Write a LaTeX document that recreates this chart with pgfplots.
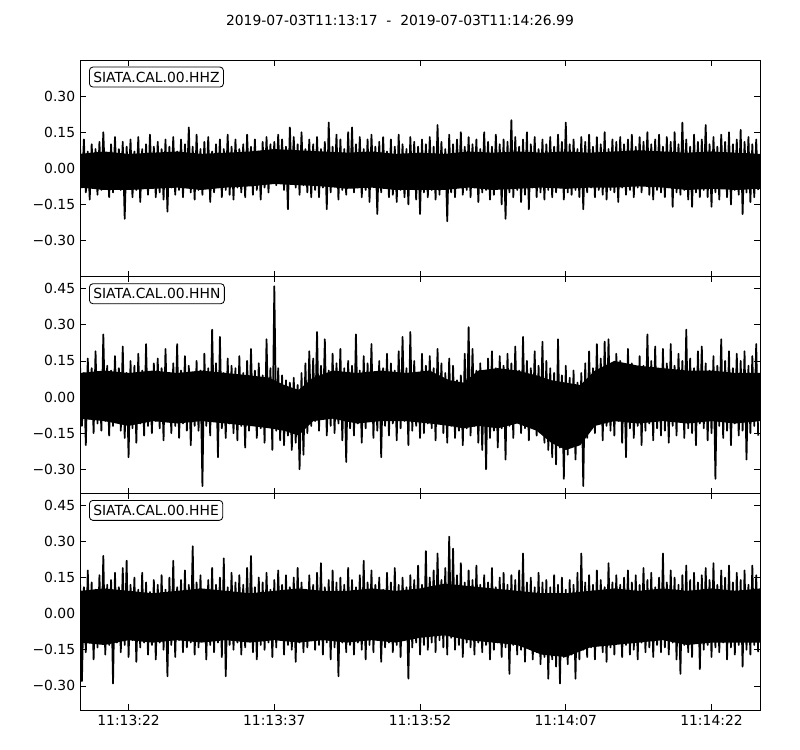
\documentclass[border=0pt]{standalone}
\usepackage{pgfplots}
\usepackage{pgfplotstable}
\pgfplotsset{compat=1.18}
\usepackage{fontspec}
\setmainfont{DejaVu Sans}

\pgfplotstableread[row sep=\\,header=false]{
0.09\\-0.08\\0.12\\-0.10\\0.07\\-0.13\\0.10\\-0.06\\0.08\\-0.11\\0.11\\-0.09\\0.15\\-0.07\\0.06\\-0.12\\0.10\\-0.10\\0.13\\-0.08\\
0.08\\-0.09\\0.11\\-0.21\\0.09\\-0.07\\0.12\\-0.12\\0.07\\-0.09\\0.13\\-0.14\\0.08\\-0.08\\0.10\\-0.11\\0.14\\-0.07\\0.09\\-0.12\\
0.11\\-0.10\\0.08\\-0.13\\0.12\\-0.18\\0.09\\-0.08\\0.13\\-0.11\\0.07\\-0.09\\0.12\\-0.12\\0.10\\-0.07\\0.17\\-0.10\\0.09\\-0.13\\
0.14\\-0.09\\0.08\\-0.11\\0.11\\-0.08\\0.13\\-0.14\\0.07\\-0.10\\0.10\\-0.07\\0.12\\-0.12\\0.08\\-0.09\\0.14\\-0.11\\0.09\\-0.13\\
0.12\\-0.08\\0.08\\-0.10\\0.10\\-0.12\\0.14\\-0.07\\0.09\\-0.11\\0.12\\-0.09\\0.07\\-0.13\\0.11\\-0.08\\0.13\\-0.10\\0.10\\-0.06\\
0.11\\-0.07\\0.14\\-0.06\\0.12\\-0.09\\0.09\\-0.17\\0.17\\-0.06\\0.13\\-0.08\\0.10\\-0.11\\0.15\\-0.07\\0.08\\-0.10\\0.12\\-0.12\\
0.10\\-0.09\\0.13\\-0.12\\0.08\\-0.08\\0.11\\-0.17\\0.19\\-0.10\\0.09\\-0.07\\0.14\\-0.13\\0.12\\-0.09\\0.08\\-0.11\\0.15\\-0.08\\
0.17\\-0.10\\0.10\\-0.08\\0.13\\-0.12\\0.08\\-0.09\\0.12\\-0.14\\0.14\\-0.07\\0.09\\-0.19\\0.11\\-0.10\\0.13\\-0.08\\0.07\\-0.12\\
0.12\\-0.11\\0.09\\-0.14\\0.14\\-0.09\\0.10\\-0.12\\0.08\\-0.15\\0.13\\-0.08\\0.11\\-0.13\\0.09\\-0.19\\0.12\\-0.10\\0.10\\-0.12\\
0.13\\-0.09\\0.09\\-0.13\\0.18\\-0.11\\0.11\\-0.08\\0.08\\-0.22\\0.14\\-0.10\\0.10\\-0.12\\0.12\\-0.07\\0.15\\-0.11\\0.09\\-0.09\\
0.13\\-0.12\\0.10\\-0.08\\0.12\\-0.14\\0.08\\-0.10\\0.15\\-0.09\\0.11\\-0.13\\0.09\\-0.11\\0.14\\-0.08\\0.10\\-0.15\\0.12\\-0.21\\
0.11\\-0.10\\0.20\\-0.12\\0.13\\-0.09\\0.09\\-0.14\\0.12\\-0.11\\0.15\\-0.17\\0.10\\-0.08\\0.13\\-0.12\\0.08\\-0.10\\0.12\\-0.13\\
0.10\\-0.09\\0.13\\-0.12\\0.09\\-0.10\\0.14\\-0.08\\0.11\\-0.13\\0.19\\-0.10\\0.10\\-0.11\\0.12\\-0.09\\0.08\\-0.12\\0.13\\-0.17\\
0.11\\-0.10\\0.14\\-0.08\\0.09\\-0.12\\0.13\\-0.09\\0.10\\-0.11\\0.15\\-0.13\\0.08\\-0.09\\0.12\\-0.10\\0.11\\-0.14\\0.13\\-0.08\\
0.10\\-0.11\\0.12\\-0.09\\0.14\\-0.12\\0.09\\-0.08\\0.13\\-0.10\\0.11\\-0.07\\0.15\\-0.11\\0.10\\-0.13\\0.12\\-0.09\\0.14\\-0.10\\
0.09\\-0.12\\0.13\\-0.08\\0.11\\-0.16\\0.15\\-0.10\\0.10\\-0.11\\0.19\\-0.09\\0.12\\-0.13\\0.09\\-0.16\\0.14\\-0.10\\0.11\\-0.12\\
0.12\\-0.09\\0.18\\-0.12\\0.10\\-0.16\\0.13\\-0.10\\0.09\\-0.13\\0.14\\-0.08\\0.11\\-0.12\\0.15\\-0.15\\0.10\\-0.09\\0.12\\-0.11\\
0.16\\-0.19\\0.11\\-0.10\\0.13\\-0.14\\0.10\\-0.12\\0.12\\-0.09\\
}\traceHHZ

\pgfplotstableread[row sep=\\,header=false]{
0.14\\-0.12\\0.10\\-0.20\\0.16\\-0.09\\0.12\\-0.15\\0.19\\-0.11\\0.09\\-0.14\\0.26\\-0.10\\0.13\\-0.16\\0.11\\-0.12\\0.17\\-0.09\\
0.12\\-0.14\\0.21\\-0.17\\0.10\\-0.25\\0.15\\-0.13\\0.13\\-0.19\\0.18\\-0.11\\0.11\\-0.16\\0.22\\-0.12\\0.09\\-0.15\\0.14\\-0.10\\
0.16\\-0.13\\0.12\\-0.18\\0.20\\-0.10\\0.10\\-0.15\\0.14\\-0.12\\0.22\\-0.17\\0.11\\-0.11\\0.17\\-0.14\\0.13\\-0.20\\0.09\\-0.12\\
0.15\\-0.14\\0.11\\-0.37\\0.18\\-0.12\\0.12\\-0.16\\0.28\\-0.10\\0.14\\-0.25\\0.25\\-0.13\\0.10\\-0.17\\0.16\\-0.11\\0.13\\-0.15\\
0.12\\-0.18\\0.17\\-0.12\\0.10\\-0.21\\0.15\\-0.14\\0.20\\-0.11\\0.11\\-0.17\\0.14\\-0.13\\0.09\\-0.19\\0.24\\-0.12\\0.12\\-0.22\\
0.46\\-0.14\\0.12\\-0.18\\0.09\\-0.20\\0.07\\-0.16\\0.06\\-0.22\\0.08\\-0.19\\0.05\\-0.30\\0.10\\-0.24\\0.14\\-0.15\\0.19\\-0.12\\
0.16\\-0.10\\0.27\\-0.14\\0.13\\-0.09\\0.24\\-0.16\\0.11\\-0.12\\0.18\\-0.15\\0.14\\-0.11\\0.20\\-0.18\\0.12\\-0.27\\0.15\\-0.13\\
0.13\\-0.16\\0.26\\-0.11\\0.11\\-0.19\\0.17\\-0.13\\0.14\\-0.10\\0.22\\-0.17\\0.10\\-0.14\\0.15\\-0.25\\0.12\\-0.12\\0.18\\-0.16\\
0.14\\-0.11\\0.11\\-0.18\\0.19\\-0.13\\0.25\\-0.10\\0.12\\-0.20\\0.27\\-0.14\\0.15\\-0.12\\0.10\\-0.17\\0.18\\-0.15\\0.13\\-0.11\\
0.17\\-0.13\\0.12\\-0.18\\0.20\\-0.11\\0.14\\-0.15\\0.10\\-0.19\\0.16\\-0.12\\0.13\\-0.17\\0.07\\-0.14\\0.09\\-0.20\\0.18\\-0.13\\
0.29\\-0.16\\0.20\\-0.12\\0.11\\-0.19\\0.14\\-0.22\\0.09\\-0.30\\0.16\\-0.17\\0.19\\-0.14\\0.12\\-0.21\\0.17\\-0.13\\0.13\\-0.26\\
0.18\\-0.12\\0.14\\-0.17\\0.21\\-0.10\\0.11\\-0.15\\0.25\\-0.13\\0.15\\-0.18\\0.12\\-0.11\\0.19\\-0.16\\0.13\\-0.14\\0.23\\-0.19\\
0.15\\-0.22\\0.12\\-0.25\\0.10\\-0.28\\0.24\\-0.21\\0.09\\-0.34\\0.13\\-0.24\\0.08\\-0.20\\0.11\\-0.26\\0.06\\-0.19\\0.10\\-0.37\\
0.14\\-0.17\\0.19\\-0.13\\0.12\\-0.15\\0.22\\-0.11\\0.16\\-0.18\\0.23\\-0.12\\0.24\\-0.14\\0.13\\-0.16\\0.18\\-0.10\\0.15\\-0.19\\
0.12\\-0.25\\0.20\\-0.13\\0.14\\-0.17\\0.10\\-0.12\\0.17\\-0.20\\0.13\\-0.14\\0.26\\-0.11\\0.15\\-0.18\\0.21\\-0.13\\0.11\\-0.16\\
0.20\\-0.14\\0.14\\-0.19\\0.22\\-0.12\\0.13\\-0.16\\0.18\\-0.10\\0.15\\-0.17\\0.28\\-0.13\\0.16\\-0.15\\0.12\\-0.20\\0.19\\-0.11\\
0.21\\-0.13\\0.14\\-0.18\\0.11\\-0.15\\0.17\\-0.34\\0.13\\-0.12\\0.24\\-0.17\\0.15\\-0.14\\0.19\\-0.20\\0.12\\-0.11\\0.18\\-0.16\\
0.15\\-0.14\\0.19\\-0.26\\0.13\\-0.15\\0.17\\-0.12\\0.22\\-0.16\\
}\traceHHN

\pgfplotstableread[row sep=\\,header=false]{
0.15\\-0.28\\0.11\\-0.16\\0.18\\-0.12\\0.13\\-0.19\\0.10\\-0.14\\0.16\\-0.11\\0.24\\-0.17\\0.12\\-0.13\\0.14\\-0.29\\0.17\\-0.12\\
0.11\\-0.16\\0.19\\-0.13\\0.22\\-0.18\\0.12\\-0.11\\0.15\\-0.20\\0.10\\-0.14\\0.17\\-0.12\\0.13\\-0.17\\0.09\\-0.13\\0.14\\-0.19\\
0.12\\-0.12\\0.16\\-0.15\\0.10\\-0.26\\0.15\\-0.13\\0.22\\-0.18\\0.11\\-0.11\\0.14\\-0.16\\0.18\\-0.14\\0.12\\-0.12\\0.28\\-0.17\\
0.13\\-0.14\\0.16\\-0.11\\0.10\\-0.19\\0.14\\-0.13\\0.19\\-0.16\\0.12\\-0.12\\0.15\\-0.18\\0.23\\-0.26\\0.11\\-0.13\\0.17\\-0.15\\
0.13\\-0.12\\0.16\\-0.17\\0.12\\-0.14\\0.19\\-0.11\\0.24\\-0.16\\0.11\\-0.19\\0.15\\-0.13\\0.13\\-0.15\\0.17\\-0.12\\0.10\\-0.18\\
0.14\\-0.14\\0.18\\-0.11\\0.12\\-0.17\\0.16\\-0.13\\0.11\\-0.15\\0.15\\-0.20\\0.19\\-0.12\\0.13\\-0.16\\0.10\\-0.14\\0.16\\-0.11\\
0.12\\-0.15\\0.17\\-0.13\\0.21\\-0.17\\0.11\\-0.12\\0.14\\-0.19\\0.18\\-0.14\\0.13\\-0.26\\0.15\\-0.12\\0.12\\-0.16\\0.19\\-0.13\\
0.14\\-0.17\\0.11\\-0.12\\0.16\\-0.15\\0.22\\-0.19\\0.13\\-0.13\\0.18\\-0.16\\0.12\\-0.11\\0.15\\-0.20\\0.10\\-0.14\\0.17\\-0.12\\
0.13\\-0.16\\0.19\\-0.13\\0.12\\-0.18\\0.15\\-0.11\\0.11\\-0.27\\0.16\\-0.14\\0.14\\-0.12\\0.20\\-0.17\\0.12\\-0.13\\0.26\\-0.15\\
0.15\\-0.12\\0.18\\-0.16\\0.25\\-0.11\\0.14\\-0.14\\0.19\\-0.17\\0.32\\-0.10\\0.27\\-0.15\\0.16\\-0.13\\0.21\\-0.18\\0.13\\-0.12\\
0.18\\-0.14\\0.14\\-0.17\\0.20\\-0.12\\0.12\\-0.16\\0.16\\-0.13\\0.13\\-0.19\\0.19\\-0.15\\0.11\\-0.12\\0.15\\-0.18\\0.17\\-0.14\\
0.12\\-0.25\\0.16\\-0.13\\0.14\\-0.17\\0.18\\-0.15\\0.25\\-0.20\\0.13\\-0.14\\0.15\\-0.19\\0.11\\-0.16\\0.17\\-0.21\\0.13\\-0.18\\
0.14\\-0.27\\0.11\\-0.19\\0.16\\-0.22\\0.12\\-0.29\\0.15\\-0.18\\0.10\\-0.21\\0.14\\-0.17\\0.12\\-0.27\\0.17\\-0.19\\0.25\\-0.15\\
0.13\\-0.18\\0.16\\-0.14\\0.12\\-0.19\\0.18\\-0.13\\0.14\\-0.16\\0.11\\-0.20\\0.21\\-0.14\\0.13\\-0.17\\0.16\\-0.12\\0.12\\-0.18\\
0.15\\-0.13\\0.18\\-0.17\\0.13\\-0.15\\0.16\\-0.19\\0.12\\-0.12\\0.19\\-0.16\\0.14\\-0.14\\0.17\\-0.18\\0.11\\-0.13\\0.15\\-0.16\\
0.25\\-0.14\\0.13\\-0.17\\0.18\\-0.12\\0.15\\-0.19\\0.12\\-0.25\\0.16\\-0.13\\0.20\\-0.16\\0.14\\-0.18\\0.17\\-0.12\\0.13\\-0.23\\
0.16\\-0.15\\0.19\\-0.13\\0.14\\-0.18\\0.21\\-0.14\\0.12\\-0.16\\0.18\\-0.12\\0.15\\-0.19\\0.20\\-0.14\\0.13\\-0.17\\0.17\\-0.13\\
0.14\\-0.22\\0.18\\-0.15\\0.12\\-0.17\\0.20\\-0.13\\0.16\\-0.16\\
}\traceHHE

% solid cores of the traces: upper edge left to right, then lower edge back
\pgfplotstableread{
t y
0 0.06
2.5 0.07
5 0.06
7.5 0.065
10 0.07
12.5 0.06
15 0.065
17.5 0.07
20 0.08
22.5 0.075
25 0.07
27.5 0.065
30 0.07
32.5 0.06
35 0.065
37.5 0.06
40 0.07
42.5 0.065
45 0.07
47.5 0.065
50 0.07
52.5 0.065
55 0.07
57.5 0.075
60 0.07
62.5 0.065
65 0.07
67.5 0.065
69.99 0.06
69.99 -0.085
67.5 -0.09
65 -0.085
62.5 -0.09
60 -0.08
57.5 -0.075
55 -0.08
52.5 -0.08
50 -0.085
47.5 -0.08
45 -0.085
42.5 -0.09
40 -0.08
37.5 -0.09
35 -0.09
32.5 -0.09
30 -0.08
27.5 -0.085
25 -0.075
22.5 -0.07
20 -0.065
17.5 -0.075
15 -0.08
12.5 -0.09
10 -0.08
7.5 -0.085
5 -0.09
2.5 -0.09
0 -0.08
}\coreHHZ

\pgfplotstableread{
t y
0 0.10
2.5 0.11
5 0.10
7.5 0.11
10 0.10
12.5 0.11
15 0.10
17.5 0.09
19.5 0.08
21 0.05
22.5 0.03
24 0.08
26 0.11
28.5 0.10
31 0.11
33.5 0.10
36 0.11
38 0.07
39.5 0.06
41 0.11
43 0.12
45 0.11
47 0.09
48.5 0.07
50 0.06
51.5 0.05
53 0.11
55 0.15
57.5 0.13
60 0.12
62.5 0.11
65 0.11
67.5 0.10
69.99 0.10
69.99 -0.10
67.5 -0.11
65 -0.10
62.5 -0.11
60 -0.10
57.5 -0.11
55 -0.10
53 -0.12
51.5 -0.20
50 -0.22
48.5 -0.19
47 -0.14
45 -0.11
43 -0.13
41 -0.12
39.5 -0.13
38 -0.12
36 -0.11
33.5 -0.10
31 -0.10
28.5 -0.11
26 -0.09
24 -0.10
22.5 -0.16
21 -0.14
19.5 -0.13
17.5 -0.12
15 -0.11
12.5 -0.10
10 -0.11
7.5 -0.10
5 -0.12
2.5 -0.10
0 -0.09
}\coreHHN

\pgfplotstableread{
t y
0 0.095
2.5 0.105
5 0.095
7.5 0.085
10 0.095
12.5 0.105
15 0.095
17.5 0.085
20 0.095
22.5 0.105
25 0.095
27.5 0.095
30 0.105
32.5 0.095
35 0.105
37.5 0.125
40 0.115
42.5 0.105
45 0.095
47.5 0.085
50 0.085
52.5 0.095
55 0.105
57.5 0.095
60 0.105
62.5 0.095
65 0.105
67.5 0.095
69.99 0.105
69.99 -0.12
67.5 -0.12
65 -0.12
62.5 -0.13
60 -0.11
57.5 -0.12
55 -0.13
52.5 -0.14
50 -0.18
47.5 -0.17
45 -0.13
42.5 -0.12
40 -0.11
37.5 -0.09
35 -0.10
32.5 -0.12
30 -0.11
27.5 -0.12
25 -0.11
22.5 -0.12
20 -0.11
17.5 -0.12
15 -0.11
12.5 -0.12
10 -0.11
7.5 -0.12
5 -0.11
2.5 -0.13
0 -0.12
}\coreHHE

\tikzset{
  stalabel/.style={draw, rounded corners=2.5pt, fill=white, line width=0.6pt,
    inner xsep=2.8pt, inner ysep=3.4pt, anchor=north west,
    font=\fontsize{10}{12}\selectfont},
}
\pgfplotsset{
  seis/.style={
    scale only axis,
    width=489.6pt, height=156pt,
    xmin=0, xmax=69.99,
    xtick={5,20,35,50,65},
    tick align=inside,
    major tick length=4pt,
    tick style={black, line width=0.5pt},
    axis line style={line width=0.7pt},
    ticklabel style={font=\fontsize{10}{12}\selectfont},
    clip=true,
  },
  trace/.style={black, line width=1.25pt, line join=round, mark=none},
  core/.style={fill=black, draw=none, mark=none},
}

\begin{document}
\begin{tikzpicture}
\useasboundingbox (0,0) rectangle (576pt,540pt);
\node[font=\fontsize{10}{12}\selectfont] at (288pt,525.6pt) {2019-07-03T11:13:17\ \ -\ \ 2019-07-03T11:14:26.99};

\begin{axis}[seis, at={(57.6pt,340.8pt)}, anchor=south west,
  ymin=-0.45, ymax=0.45,
  ytick={-0.30,-0.15,0,0.15,0.30},
  yticklabels={−0.30,−0.15,0.00,0.15,0.30},
  xticklabels={}]
\addplot[core] table[x=t, y=y] {\coreHHZ};
\addplot[trace] table[x expr=\coordindex*0.2, y index=0] {\traceHHZ};
\node[stalabel] at ([xshift=6.5pt,yshift=-4.8pt]rel axis cs:0,1) {SIATA.CAL.00.HHZ};
\end{axis}

\begin{axis}[seis, at={(57.6pt,184.8pt)}, anchor=south west,
  ymin=-0.40, ymax=0.50,
  ytick={-0.30,-0.15,0,0.15,0.30,0.45},
  yticklabels={−0.30,−0.15,0.00,0.15,0.30,0.45},
  xticklabels={}]
\addplot[core] table[x=t, y=y] {\coreHHN};
\addplot[trace] table[x expr=\coordindex*0.2, y index=0] {\traceHHN};
\node[stalabel] at ([xshift=6.5pt,yshift=-4.8pt]rel axis cs:0,1) {SIATA.CAL.00.HHN};
\end{axis}

\begin{axis}[seis, at={(57.6pt,28.8pt)}, anchor=south west,
  ymin=-0.40, ymax=0.50,
  ytick={-0.30,-0.15,0,0.15,0.30,0.45},
  yticklabels={−0.30,−0.15,0.00,0.15,0.30,0.45},
  xticklabels={11:13:22,11:13:37,11:13:52,11:14:07,11:14:22}]
\addplot[core] table[x=t, y=y] {\coreHHE};
\addplot[trace] table[x expr=\coordindex*0.2, y index=0] {\traceHHE};
\node[stalabel] at ([xshift=6.5pt,yshift=-4.8pt]rel axis cs:0,1) {SIATA.CAL.00.HHE};
\end{axis}
\end{tikzpicture}
\end{document}
